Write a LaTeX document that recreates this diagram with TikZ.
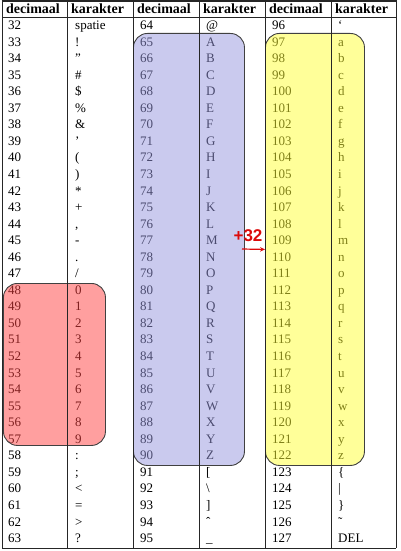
\documentclass[tikz,border=0pt]{standalone}
\usepackage{fontspec}
\setmainfont{Liberation Serif}
\newfontfamily\plusfont{Liberation Sans}
\usetikzlibrary{arrows.meta}
\definecolor{redfill}{RGB}{255,64,64}
\definecolor{bluefill}{RGB}{150,150,222}
\definecolor{yellowfill}{RGB}{255,255,51}
\definecolor{plusred}{RGB}{220,10,10}
\tikzset{
  cell/.style={anchor=west, inner sep=0pt, text height=9pt, text depth=0pt, font=\fontsize{13}{15}\selectfont},
  head/.style={cell, font=\bfseries\fontsize{14}{16}\selectfont},
  hlbox/.style={draw=black!75, line width=0.9pt, rounded corners=14pt, fill opacity=0.5, inner sep=0pt, anchor=north west},
  rule/.style={line width=0.8pt, black!85},
}
\newcommand\tabrow[7]{%
  \node[cell] (da#1) at (8,{25+16.55*#1}) {#2};
  \node[cell] (ca#1) at (75,{25+16.55*#1}) {#3};
  \node[cell] (db#1) at (140,{25+16.55*#1}) {#4};
  \node[cell] (cb#1) at (206,{25+16.55*#1}) {#5};
  \node[cell] (dc#1) at (272,{25+16.55*#1}) {#6};
  \node[cell] (cc#1) at (338,{25+16.55*#1}) {#7};%
}
\begin{document}
\begin{tikzpicture}[x=1pt,y=-1pt]
\useasboundingbox (0,0) rectangle (400,551);
% header
\node[head] (h1) at (6,9) {decimaal};
\node[head] (h2) at (71,9) {karakter};
\node[head] (h3) at (137,9) {decimaal};
\node[head] (h4) at (203,9) {karakter};
\node[head] (h5) at (269,9) {decimaal};
\node[head] (h6) at (335,9) {karakter};
% rows
\tabrow{0}{32}{spatie}{64}{@}{96}{`}
\tabrow{1}{33}{!}{65}{A}{97}{a}
\tabrow{2}{34}{"}{66}{B}{98}{b}
\tabrow{3}{35}{\#}{67}{C}{99}{c}
\tabrow{4}{36}{\$}{68}{D}{100}{d}
\tabrow{5}{37}{\%}{69}{E}{101}{e}
\tabrow{6}{38}{\&}{70}{F}{102}{f}
\tabrow{7}{39}{'}{71}{G}{103}{g}
\tabrow{8}{40}{(}{72}{H}{104}{h}
\tabrow{9}{41}{)}{73}{I}{105}{i}
\tabrow{10}{42}{*}{74}{J}{106}{j}
\tabrow{11}{43}{+}{75}{K}{107}{k}
\tabrow{12}{44}{,}{76}{L}{108}{l}
\tabrow{13}{45}{-}{77}{M}{109}{m}
\tabrow{14}{46}{.}{78}{N}{110}{n}
\tabrow{15}{47}{/}{79}{O}{111}{o}
\tabrow{16}{48}{0}{80}{P}{112}{p}
\tabrow{17}{49}{1}{81}{Q}{113}{q}
\tabrow{18}{50}{2}{82}{R}{114}{r}
\tabrow{19}{51}{3}{83}{S}{115}{s}
\tabrow{20}{52}{4}{84}{T}{116}{t}
\tabrow{21}{53}{5}{85}{U}{117}{u}
\tabrow{22}{54}{6}{86}{V}{118}{v}
\tabrow{23}{55}{7}{87}{W}{119}{w}
\tabrow{24}{56}{8}{88}{X}{120}{x}
\tabrow{25}{57}{9}{89}{Y}{121}{y}
\tabrow{26}{58}{:}{90}{Z}{122}{z}
\tabrow{27}{59}{;}{91}{[}{123}{\{}
\tabrow{28}{60}{<}{92}{\textbackslash}{124}{|}
\tabrow{29}{61}{=}{93}{]}{125}{\}}
\tabrow{30}{62}{>}{94}{\symbol{"02C6}}{126}{\symbol{"02DC}}
\tabrow{31}{63}{?}{95}{\_}{127}{DEL}
% highlight boxes
\node[hlbox, fill=redfill, minimum width=102pt, minimum height=162pt] (rbox) at (3,283) {};
\node[hlbox, fill=bluefill, minimum width=111pt, minimum height=432pt] (bbox) at (133,33) {};
\node[hlbox, fill=yellowfill, minimum width=99pt, minimum height=432pt] (ybox) at (265,33) {};
% table rules
\draw[rule, line width=1.3pt] (1.5,1) -- (396.5,1);
\draw[rule] (2,17) -- (396,17);
\draw[rule] (2,548) -- (396,548);
\foreach \cx in {2,67.5,133,199,265,331,396}
  \draw[rule] (\cx,1) -- (\cx,548);
% +32 arrow
\node[inner sep=0pt, text=plusred, font=\plusfont\bfseries\fontsize{17}{17}\selectfont] (plus) at (248,236) {+32};
\coordinate (astart) at (242,249);
\draw[plusred, line width=1.2pt, -{Stealth[length=5pt,width=4.5pt]}] (astart) -- (ybox.west);
\end{tikzpicture}
\end{document}
